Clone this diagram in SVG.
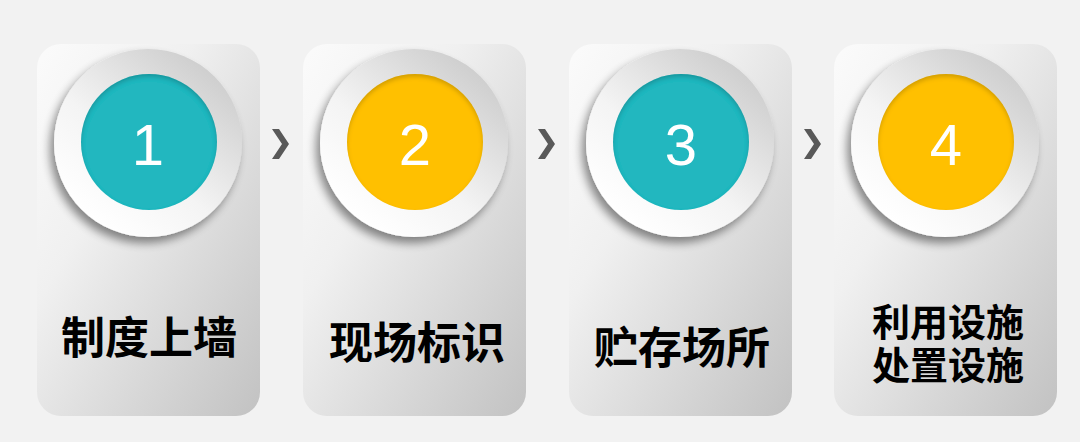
<svg xmlns="http://www.w3.org/2000/svg" width="1080" height="442" viewBox="0 0 1080 442">
<defs>
<linearGradient id="cardG" x1="0" y1="0" x2="1" y2="1">
<stop offset="0" stop-color="#fbfbfb"/>
<stop offset="0.35" stop-color="#f0f0f0"/>
<stop offset="1" stop-color="#c2c2c2"/>
</linearGradient>
<linearGradient id="ringG" x1="0.85" y1="0.1" x2="0.2" y2="0.9">
<stop offset="0" stop-color="#cdcdcd"/>
<stop offset="0.6" stop-color="#f4f4f4"/>
<stop offset="1" stop-color="#ffffff"/>
</linearGradient>
<filter id="drop" x="-30%" y="-30%" width="160%" height="160%">
<feGaussianBlur in="SourceAlpha" stdDeviation="5"/>
<feOffset dx="-4" dy="6" result="b"/>
<feComponentTransfer><feFuncA type="linear" slope="0.45"/></feComponentTransfer>
<feMerge><feMergeNode/><feMergeNode in="SourceGraphic"/></feMerge>
</filter>
<filter id="inset" x="-10%" y="-10%" width="120%" height="120%">
<feOffset in="SourceAlpha" dx="0" dy="3"/>
<feGaussianBlur stdDeviation="2" result="o"/>
<feComposite in="SourceAlpha" in2="o" operator="out" result="s"/>
<feFlood flood-color="#000" flood-opacity="0.35"/>
<feComposite in2="s" operator="in" result="sh"/>
<feMerge><feMergeNode in="SourceGraphic"/><feMergeNode in="sh"/></feMerge>
</filter>
<style>
.card{fill:url(#cardG)}
.ring{fill:url(#ringG);filter:url(#drop)}
.teal{fill:#23b7bf;filter:url(#inset)}
.gold{fill:#ffc000;filter:url(#inset)}
.num{font-family:"Liberation Sans",Arial,sans-serif;font-size:58px;fill:#fff;text-anchor:middle}
.lbl{font-family:"Noto Sans CJK SC","Noto Sans",sans-serif;font-weight:bold;font-size:44px;fill:#000;text-anchor:middle}
.lbl4{font-size:38px}
.chev{fill:#595959}
</style>
</defs>
<rect width="1080" height="442" fill="#f2f2f2"/>
<g id="step1">
<rect class="card" x="37" y="44" width="223" height="372" rx="24"/>
<circle class="ring" cx="148" cy="143" r="94"/>
<circle class="teal" cx="149" cy="142" r="68"/>
<text class="num" x="148" y="165">1</text>
<text class="lbl" x="149" y="354">制度上墙</text>
</g>
<g id="step2">
<rect class="card" x="303" y="44" width="223" height="372" rx="24"/>
<circle class="ring" cx="414" cy="143" r="94"/>
<circle class="gold" cx="415" cy="142" r="68"/>
<text class="num" x="415" y="165">2</text>
<text class="lbl" x="417" y="359">现场标识</text>
</g>
<g id="step3">
<rect class="card" x="569" y="44" width="223" height="372" rx="24"/>
<circle class="ring" cx="680" cy="143" r="94"/>
<circle class="teal" cx="681" cy="142" r="68"/>
<text class="num" x="681" y="165">3</text>
<text class="lbl" x="682" y="364">贮存场所</text>
</g>
<g id="step4">
<rect class="card" x="834" y="44" width="223" height="372" rx="24"/>
<circle class="ring" cx="945" cy="143" r="94"/>
<circle class="gold" cx="946" cy="142" r="68"/>
<text class="num" x="946" y="165">4</text>
<text class="lbl lbl4" x="948" y="336"><tspan x="948" y="336">利用设施</tspan><tspan x="948" y="379">处置设施</tspan></text>
</g>
<g id="connectors">
<polygon class="chev" points="272,129 279,129 289,144 279,159 272,159 282,144"/>
<polygon class="chev" points="538,129 545,129 555,144 545,159 538,159 548,144"/>
<polygon class="chev" points="804,129 811,129 821,144 811,159 804,159 814,144"/>
</g>
</svg>
